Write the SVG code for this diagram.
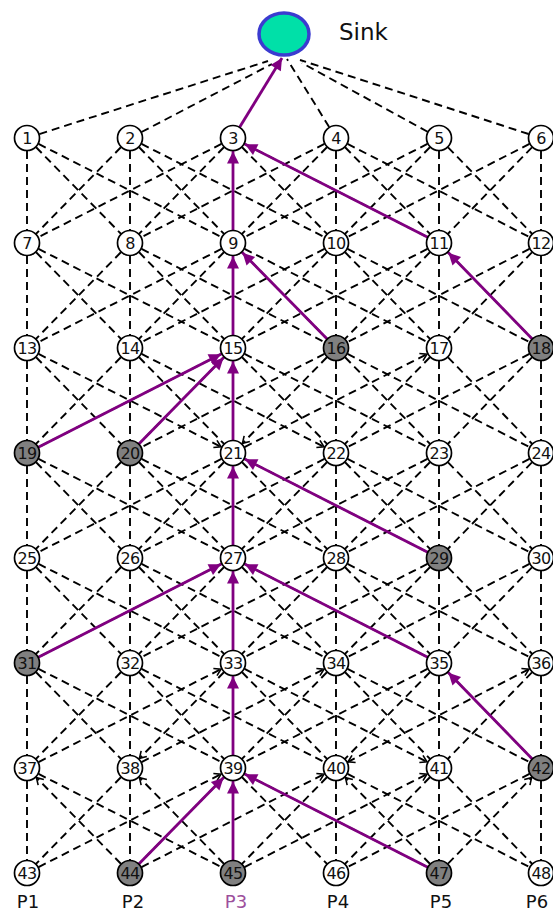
<svg xmlns="http://www.w3.org/2000/svg" width="553" height="911" viewBox="0 0 553 911">
<style>
.d{stroke:#000;stroke-width:1.9;stroke-dasharray:8 5;fill:none}
.p{stroke:#800080;stroke-width:2.8;fill:none}
.n circle{fill:#fff;stroke:#000;stroke-width:1.7}
.n.g circle{fill:#808080}
.n text{font-family:"DejaVu Sans",Verdana,sans-serif;font-size:16px;letter-spacing:-0.8px;text-anchor:middle;fill:#111}
.lbl{font-family:"DejaVu Sans",Verdana,sans-serif;font-size:18px;text-anchor:middle;fill:#111}
</style>
<defs>
<marker id="da" markerUnits="userSpaceOnUse" refX="0" refY="0" markerWidth="40" markerHeight="40" orient="auto-start-reverse" overflow="visible">
<path d="M-20,-4 L-13.5,0 L-20,4" fill="none" stroke="#000" stroke-width="1.6" stroke-dasharray="none"/>
</marker>
<marker id="pa" markerUnits="userSpaceOnUse" refX="0" refY="0" markerWidth="40" markerHeight="40" orient="auto" overflow="visible">
<path d="M-25.5,-6 L-13.5,0 L-25.5,6 Z" fill="#800080" stroke="none"/>
</marker>
<marker id="pa0" markerUnits="userSpaceOnUse" refX="0" refY="0" markerWidth="40" markerHeight="40" orient="auto" overflow="visible">
<path d="M-12,-6 L0,0 L-12,6 Z" fill="#800080" stroke="none"/>
</marker>
</defs>
<rect width="553" height="911" fill="#fff"/>
<g id="connectors">
<g id="sink-links" class="d">
<line x1="27" y1="138" x2="268" y2="61"/>
<line x1="130" y1="138" x2="272" y2="64"/>
<line x1="336" y1="138" x2="287" y2="59"/>
<line x1="439" y1="138" x2="302" y2="63"/>
<line x1="541" y1="138" x2="300" y2="60"/>
</g>
<g id="gap0" class="d">
<line x1="27" y1="138" x2="27" y2="243"/><line x1="27" y1="138" x2="130" y2="243"/><line x1="27" y1="138" x2="233" y2="243"/>
<line x1="130" y1="138" x2="27" y2="243"/><line x1="130" y1="138" x2="130" y2="243"/><line x1="130" y1="138" x2="233" y2="243"/><line x1="130" y1="138" x2="336" y2="243"/>
<line x1="233" y1="138" x2="27" y2="243"/><line x1="233" y1="138" x2="130" y2="243"/><line x1="233" y1="138" x2="233" y2="243"/><line x1="233" y1="138" x2="336" y2="243"/><line x1="233" y1="138" x2="439" y2="243"/>
<line x1="336" y1="138" x2="130" y2="243"/><line x1="336" y1="138" x2="233" y2="243"/><line x1="336" y1="138" x2="336" y2="243"/><line x1="336" y1="138" x2="439" y2="243"/><line x1="336" y1="138" x2="541" y2="243"/>
<line x1="439" y1="138" x2="233" y2="243"/><line x1="439" y1="138" x2="336" y2="243"/><line x1="439" y1="138" x2="439" y2="243"/><line x1="439" y1="138" x2="541" y2="243"/>
<line x1="541" y1="138" x2="336" y2="243"/><line x1="541" y1="138" x2="439" y2="243"/><line x1="541" y1="138" x2="541" y2="243"/>
</g>
<g id="gap1" class="d">
<line x1="27" y1="243" x2="27" y2="348"/><line x1="27" y1="243" x2="130" y2="348"/><line x1="27" y1="243" x2="233" y2="348"/>
<line x1="130" y1="243" x2="27" y2="348"/><line x1="130" y1="243" x2="130" y2="348"/><line x1="130" y1="243" x2="233" y2="348"/><line x1="130" y1="243" x2="336" y2="348"/>
<line x1="233" y1="243" x2="27" y2="348"/><line x1="233" y1="243" x2="130" y2="348"/><line x1="233" y1="243" x2="233" y2="348"/><line x1="233" y1="243" x2="336" y2="348"/><line x1="233" y1="243" x2="439" y2="348"/>
<line x1="336" y1="243" x2="130" y2="348"/><line x1="336" y1="243" x2="233" y2="348"/><line x1="336" y1="243" x2="336" y2="348"/><line x1="336" y1="243" x2="439" y2="348"/><line x1="336" y1="243" x2="541" y2="348"/>
<line x1="439" y1="243" x2="233" y2="348"/><line x1="439" y1="243" x2="336" y2="348"/><line x1="439" y1="243" x2="439" y2="348"/><line x1="439" y1="243" x2="541" y2="348"/>
<line x1="541" y1="243" x2="336" y2="348"/><line x1="541" y1="243" x2="439" y2="348"/><line x1="541" y1="243" x2="541" y2="348"/>
</g>
<g id="gap2" class="d">
<line x1="27" y1="348" x2="27" y2="453"/><line x1="27" y1="348" x2="130" y2="453"/>
<line x1="130" y1="348" x2="27" y2="453"/><line x1="130" y1="348" x2="130" y2="453"/><line x1="130" y1="348" x2="233" y2="453"/>
<line x1="233" y1="348" x2="27" y2="453"/><line x1="233" y1="348" x2="130" y2="453"/><line x1="233" y1="348" x2="233" y2="453"/><line x1="233" y1="348" x2="336" y2="453"/><line x1="233" y1="348" x2="439" y2="453"/>
<line x1="336" y1="348" x2="130" y2="453"/><line x1="336" y1="348" x2="336" y2="453"/><line x1="336" y1="348" x2="439" y2="453"/><line x1="336" y1="348" x2="541" y2="453"/>
<line x1="439" y1="348" x2="336" y2="453"/><line x1="439" y1="348" x2="439" y2="453"/><line x1="439" y1="348" x2="541" y2="453"/>
<line x1="541" y1="348" x2="336" y2="453"/><line x1="541" y1="348" x2="439" y2="453"/><line x1="541" y1="348" x2="541" y2="453"/>
<line x1="233" y1="453" x2="439" y2="348" marker-end="url(#da)"/>
<line x1="130" y1="348" x2="336" y2="453" marker-end="url(#da)"/>
<line x1="336" y1="348" x2="233" y2="453" marker-end="url(#da)"/>
<line x1="27" y1="348" x2="233" y2="453" marker-end="url(#da)"/>
</g>
<g id="gap3" class="d">
<line x1="27" y1="453" x2="27" y2="558"/><line x1="27" y1="453" x2="130" y2="558"/><line x1="27" y1="453" x2="233" y2="558"/>
<line x1="130" y1="453" x2="27" y2="558"/><line x1="130" y1="453" x2="130" y2="558"/><line x1="130" y1="453" x2="233" y2="558"/><line x1="130" y1="453" x2="336" y2="558"/>
<line x1="233" y1="453" x2="27" y2="558"/><line x1="233" y1="453" x2="130" y2="558"/><line x1="233" y1="453" x2="233" y2="558"/><line x1="233" y1="453" x2="336" y2="558"/><line x1="233" y1="453" x2="439" y2="558"/>
<line x1="336" y1="453" x2="130" y2="558"/><line x1="336" y1="453" x2="233" y2="558"/><line x1="336" y1="453" x2="336" y2="558"/><line x1="336" y1="453" x2="439" y2="558"/><line x1="336" y1="453" x2="541" y2="558"/>
<line x1="439" y1="453" x2="233" y2="558"/><line x1="439" y1="453" x2="336" y2="558"/><line x1="439" y1="453" x2="439" y2="558"/><line x1="439" y1="453" x2="541" y2="558"/>
<line x1="541" y1="453" x2="336" y2="558"/><line x1="541" y1="453" x2="439" y2="558"/><line x1="541" y1="453" x2="541" y2="558"/>
</g>
<g id="gap4" class="d">
<line x1="27" y1="558" x2="27" y2="663"/><line x1="27" y1="558" x2="130" y2="663"/><line x1="27" y1="558" x2="233" y2="663"/>
<line x1="130" y1="558" x2="27" y2="663"/><line x1="130" y1="558" x2="130" y2="663"/><line x1="130" y1="558" x2="233" y2="663"/><line x1="130" y1="558" x2="336" y2="663"/>
<line x1="233" y1="558" x2="27" y2="663"/><line x1="233" y1="558" x2="130" y2="663"/><line x1="233" y1="558" x2="233" y2="663"/><line x1="233" y1="558" x2="336" y2="663"/><line x1="233" y1="558" x2="439" y2="663"/>
<line x1="336" y1="558" x2="130" y2="663"/><line x1="336" y1="558" x2="233" y2="663"/><line x1="336" y1="558" x2="336" y2="663"/><line x1="336" y1="558" x2="439" y2="663"/><line x1="336" y1="558" x2="541" y2="663"/>
<line x1="439" y1="558" x2="233" y2="663"/><line x1="439" y1="558" x2="336" y2="663"/><line x1="439" y1="558" x2="439" y2="663"/><line x1="439" y1="558" x2="541" y2="663"/>
<line x1="541" y1="558" x2="336" y2="663"/><line x1="541" y1="558" x2="439" y2="663"/><line x1="541" y1="558" x2="541" y2="663"/>
</g>
<g id="gap5" class="d">
<line x1="27" y1="663" x2="27" y2="768"/><line x1="27" y1="663" x2="130" y2="768"/><line x1="27" y1="663" x2="233" y2="768"/>
<line x1="130" y1="663" x2="27" y2="768"/><line x1="130" y1="663" x2="130" y2="768"/><line x1="130" y1="663" x2="233" y2="768"/><line x1="130" y1="663" x2="336" y2="768"/>
<line x1="233" y1="663" x2="233" y2="768"/><line x1="233" y1="663" x2="336" y2="768"/>
<line x1="336" y1="663" x2="233" y2="768"/><line x1="336" y1="663" x2="336" y2="768"/><line x1="336" y1="663" x2="439" y2="768"/><line x1="336" y1="663" x2="541" y2="768"/>
<line x1="439" y1="663" x2="233" y2="768"/><line x1="439" y1="663" x2="336" y2="768"/><line x1="439" y1="663" x2="439" y2="768"/><line x1="439" y1="663" x2="541" y2="768"/>
<line x1="541" y1="663" x2="439" y2="768"/><line x1="541" y1="663" x2="541" y2="768"/>
<line x1="27" y1="768" x2="233" y2="663" marker-end="url(#da)"/>
<line x1="233" y1="663" x2="130" y2="768" marker-end="url(#da)"/>
<line x1="130" y1="768" x2="336" y2="663" marker-end="url(#da)"/>
<line x1="336" y1="768" x2="541" y2="663" marker-start="url(#da)" marker-end="url(#da)"/>
<line x1="233" y1="663" x2="439" y2="768" marker-end="url(#da)"/>
</g>
<g id="gap6" class="d">
<line x1="27" y1="768" x2="27" y2="873"/><line x1="27" y1="768" x2="233" y2="873"/>
<line x1="130" y1="768" x2="27" y2="873"/><line x1="130" y1="768" x2="130" y2="873"/>
<line x1="233" y1="768" x2="130" y2="873"/><line x1="233" y1="768" x2="233" y2="873"/><line x1="233" y1="768" x2="336" y2="873"/><line x1="233" y1="768" x2="439" y2="873"/>
<line x1="336" y1="768" x2="233" y2="873"/><line x1="336" y1="768" x2="336" y2="873"/><line x1="336" y1="768" x2="541" y2="873"/>
<line x1="439" y1="768" x2="336" y2="873"/><line x1="439" y1="768" x2="439" y2="873"/><line x1="439" y1="768" x2="541" y2="873"/>
<line x1="541" y1="768" x2="336" y2="873"/><line x1="541" y1="768" x2="541" y2="873"/>
<line x1="233" y1="873" x2="130" y2="768" marker-end="url(#da)"/>
<line x1="130" y1="873" x2="27" y2="768" marker-end="url(#da)"/>
<line x1="439" y1="873" x2="336" y2="768" marker-end="url(#da)"/>
<line x1="439" y1="873" x2="541" y2="768" marker-end="url(#da)"/>
<line x1="27" y1="873" x2="233" y2="768" marker-end="url(#da)"/>
<line x1="130" y1="873" x2="336" y2="768" marker-end="url(#da)"/>
<line x1="233" y1="873" x2="439" y2="768" marker-end="url(#da)"/>
</g>
<g id="route" class="p">
<line x1="233" y1="138" x2="282" y2="58" marker-end="url(#pa0)"/>
<line x1="233" y1="243" x2="233" y2="138" marker-end="url(#pa)"/>
<line x1="439" y1="243" x2="233" y2="138" marker-end="url(#pa)"/>
<line x1="233" y1="348" x2="233" y2="243" marker-end="url(#pa)"/>
<line x1="336" y1="348" x2="233" y2="243" marker-end="url(#pa)"/>
<line x1="541" y1="348" x2="439" y2="243" marker-end="url(#pa)"/>
<line x1="27" y1="453" x2="233" y2="348" marker-end="url(#pa)"/>
<line x1="130" y1="453" x2="233" y2="348" marker-end="url(#pa)"/>
<line x1="233" y1="453" x2="233" y2="348" marker-end="url(#pa)"/>
<line x1="233" y1="558" x2="233" y2="453" marker-end="url(#pa)"/>
<line x1="439" y1="558" x2="233" y2="453" marker-end="url(#pa)"/>
<line x1="27" y1="663" x2="233" y2="558" marker-end="url(#pa)"/>
<line x1="233" y1="663" x2="233" y2="558" marker-end="url(#pa)"/>
<line x1="439" y1="663" x2="233" y2="558" marker-end="url(#pa)"/>
<line x1="541" y1="768" x2="439" y2="663" marker-end="url(#pa)"/>
<line x1="233" y1="768" x2="233" y2="663" marker-end="url(#pa)"/>
<line x1="130" y1="873" x2="233" y2="768" marker-end="url(#pa)"/>
<line x1="233" y1="873" x2="233" y2="768" marker-end="url(#pa)"/>
<line x1="439" y1="873" x2="233" y2="768" marker-end="url(#pa)"/>
</g>
</g>
<g id="sink">
<ellipse cx="284" cy="34" rx="25" ry="21" fill="#00e0a8" stroke="#3b3bd0" stroke-width="3.5"/>
<text x="339" y="40" font-family="DejaVu Sans, Verdana, sans-serif" font-size="23" fill="#111">Sink</text>
</g>
<g id="n1" class="n"><circle cx="27" cy="138" r="12.5"/><text x="27" y="144">1</text></g>
<g id="n2" class="n"><circle cx="130" cy="138" r="12.5"/><text x="130" y="144">2</text></g>
<g id="n3" class="n"><circle cx="233" cy="138" r="12.5"/><text x="233" y="144">3</text></g>
<g id="n4" class="n"><circle cx="336" cy="138" r="12.5"/><text x="336" y="144">4</text></g>
<g id="n5" class="n"><circle cx="439" cy="138" r="12.5"/><text x="439" y="144">5</text></g>
<g id="n6" class="n"><circle cx="541" cy="138" r="12.5"/><text x="541" y="144">6</text></g>
<g id="n7" class="n"><circle cx="27" cy="243" r="12.5"/><text x="27" y="249">7</text></g>
<g id="n8" class="n"><circle cx="130" cy="243" r="12.5"/><text x="130" y="249">8</text></g>
<g id="n9" class="n"><circle cx="233" cy="243" r="12.5"/><text x="233" y="249">9</text></g>
<g id="n10" class="n"><circle cx="336" cy="243" r="12.5"/><text x="336" y="249">10</text></g>
<g id="n11" class="n"><circle cx="439" cy="243" r="12.5"/><text x="439" y="249">11</text></g>
<g id="n12" class="n"><circle cx="541" cy="243" r="12.5"/><text x="541" y="249">12</text></g>
<g id="n13" class="n"><circle cx="27" cy="348" r="12.5"/><text x="27" y="354">13</text></g>
<g id="n14" class="n"><circle cx="130" cy="348" r="12.5"/><text x="130" y="354">14</text></g>
<g id="n15" class="n"><circle cx="233" cy="348" r="12.5"/><text x="233" y="354">15</text></g>
<g id="n16" class="n g"><circle cx="336" cy="348" r="12.5"/><text x="336" y="354">16</text></g>
<g id="n17" class="n"><circle cx="439" cy="348" r="12.5"/><text x="439" y="354">17</text></g>
<g id="n18" class="n g"><circle cx="541" cy="348" r="12.5"/><text x="541" y="354">18</text></g>
<g id="n19" class="n g"><circle cx="27" cy="453" r="12.5"/><text x="27" y="459">19</text></g>
<g id="n20" class="n g"><circle cx="130" cy="453" r="12.5"/><text x="130" y="459">20</text></g>
<g id="n21" class="n"><circle cx="233" cy="453" r="12.5"/><text x="233" y="459">21</text></g>
<g id="n22" class="n"><circle cx="336" cy="453" r="12.5"/><text x="336" y="459">22</text></g>
<g id="n23" class="n"><circle cx="439" cy="453" r="12.5"/><text x="439" y="459">23</text></g>
<g id="n24" class="n"><circle cx="541" cy="453" r="12.5"/><text x="541" y="459">24</text></g>
<g id="n25" class="n"><circle cx="27" cy="558" r="12.5"/><text x="27" y="564">25</text></g>
<g id="n26" class="n"><circle cx="130" cy="558" r="12.5"/><text x="130" y="564">26</text></g>
<g id="n27" class="n"><circle cx="233" cy="558" r="12.5"/><text x="233" y="564">27</text></g>
<g id="n28" class="n"><circle cx="336" cy="558" r="12.5"/><text x="336" y="564">28</text></g>
<g id="n29" class="n g"><circle cx="439" cy="558" r="12.5"/><text x="439" y="564">29</text></g>
<g id="n30" class="n"><circle cx="541" cy="558" r="12.5"/><text x="541" y="564">30</text></g>
<g id="n31" class="n g"><circle cx="27" cy="663" r="12.5"/><text x="27" y="669">31</text></g>
<g id="n32" class="n"><circle cx="130" cy="663" r="12.5"/><text x="130" y="669">32</text></g>
<g id="n33" class="n"><circle cx="233" cy="663" r="12.5"/><text x="233" y="669">33</text></g>
<g id="n34" class="n"><circle cx="336" cy="663" r="12.5"/><text x="336" y="669">34</text></g>
<g id="n35" class="n"><circle cx="439" cy="663" r="12.5"/><text x="439" y="669">35</text></g>
<g id="n36" class="n"><circle cx="541" cy="663" r="12.5"/><text x="541" y="669">36</text></g>
<g id="n37" class="n"><circle cx="27" cy="768" r="12.5"/><text x="27" y="774">37</text></g>
<g id="n38" class="n"><circle cx="130" cy="768" r="12.5"/><text x="130" y="774">38</text></g>
<g id="n39" class="n"><circle cx="233" cy="768" r="12.5"/><text x="233" y="774">39</text></g>
<g id="n40" class="n"><circle cx="336" cy="768" r="12.5"/><text x="336" y="774">40</text></g>
<g id="n41" class="n"><circle cx="439" cy="768" r="12.5"/><text x="439" y="774">41</text></g>
<g id="n42" class="n g"><circle cx="541" cy="768" r="12.5"/><text x="541" y="774">42</text></g>
<g id="n43" class="n"><circle cx="27" cy="873" r="12.5"/><text x="27" y="879">43</text></g>
<g id="n44" class="n g"><circle cx="130" cy="873" r="12.5"/><text x="130" y="879">44</text></g>
<g id="n45" class="n g"><circle cx="233" cy="873" r="12.5"/><text x="233" y="879">45</text></g>
<g id="n46" class="n"><circle cx="336" cy="873" r="12.5"/><text x="336" y="879">46</text></g>
<g id="n47" class="n g"><circle cx="439" cy="873" r="12.5"/><text x="439" y="879">47</text></g>
<g id="n48" class="n"><circle cx="541" cy="873" r="12.5"/><text x="541" y="879">48</text></g>
<g id="labels">
<text class="lbl" x="28" y="908">P1</text>
<text class="lbl" x="133" y="908">P2</text>
<text class="lbl" x="236" y="908" style="fill:#9c4f9c">P3</text>
<text class="lbl" x="338" y="908">P4</text>
<text class="lbl" x="441" y="908">P5</text>
<text class="lbl" x="537" y="908">P6</text>
</g>
</svg>
